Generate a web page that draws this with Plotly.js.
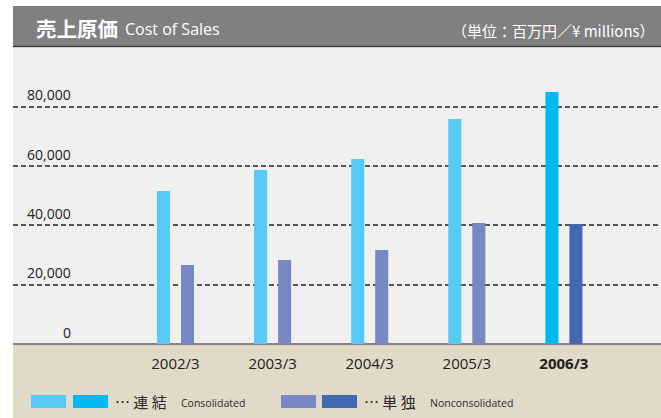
<!DOCTYPE html>
<html>
<head>
<meta charset="utf-8">
<script src="https://cdn.plot.ly/plotly-3.0.1.min.js"></script>
<style>
  html, body { margin: 0; padding: 0; background: #fff; }
  #chart { width: 661px; height: 418px; }
</style>
</head>
<body>
<div id="chart"></div>
<script>
// values, ¥ millions
const years = ['2002/3', '2003/3', '2004/3', '2005/3', '2006/3'];
const consolidated = [51600, 58700, 62400, 75900, 85000];
const nonconsolidated = [26600, 28300, 31700, 40800, 40500];
const yTicks = [0, 20000, 40000, 60000, 80000];

// latest year is highlighted with a stronger colour
const consColors = ['#56c9f5', '#56c9f5', '#56c9f5', '#56c9f5', '#00b9f0'];
const nonColors = ['#7888c4', '#7888c4', '#7888c4', '#7888c4', '#4169b1'];

const jp = '"Noto Sans CJK JP", sans-serif';
const latin = '"Open Sans", "Noto Sans CJK JP", sans-serif';

// pixel helpers for the decorations (plot area is 13..661 x 48..344)
const px = x => (x - 13) / 648;
const py = y => (344 - y) / 296;

const trace1 = {
    type: 'bar',
    x: years,
    y: consolidated,
    width: 0.134,
    offset: -0.19,
    marker: {color: consColors},
    hoverinfo: 'skip',
    name: '連結'
};

const trace2 = {
    type: 'bar',
    x: years,
    y: nonconsolidated,
    width: 0.134,
    offset: 0.057,
    marker: {color: nonColors},
    hoverinfo: 'skip',
    name: '単独'
};

const shapes = [
    // beige footer band
    {type: 'rect', xref: 'paper', yref: 'paper', x0: 0, x1: 1, y0: py(418), y1: 0,
     fillcolor: '#e1dac8', line: {width: 0}, layer: 'below'},
    // grey title bar
    {type: 'rect', xref: 'paper', yref: 'paper', x0: 0, x1: 1, y0: py(46), y1: py(6),
     fillcolor: '#808080', line: {width: 0}},
    {type: 'line', xref: 'paper', yref: 'paper', x0: 0, x1: 1, y0: py(46.5), y1: py(46.5),
     line: {color: '#3c3c3c', width: 1.5}}
];

// legend swatches
const swatches = [
    [31, consColors[0]], [73, consColors[4]],
    [281, nonColors[0]], [322, nonColors[4]]
];
swatches.forEach(function(s) {
    shapes.push({type: 'rect', xref: 'paper', yref: 'paper',
        x0: px(s[0]), x1: px(s[0] + 35), y0: py(408), y1: py(395),
        fillcolor: s[1], line: {width: 0}});
});

const annotations = [
    {xref: 'paper', yref: 'paper', x: px(34), y: py(28), xanchor: 'left', yanchor: 'middle',
     text: '<b>売上原価</b>', showarrow: false, font: {family: jp, size: 20.5, color: '#fff'}},
    {xref: 'paper', yref: 'paper', x: px(123), y: py(29), xanchor: 'left', yanchor: 'middle',
     text: 'Cost of Sales', showarrow: false, font: {family: latin, size: 16, color: '#fff'}},
    {xref: 'paper', yref: 'paper', x: px(657), y: py(30), xanchor: 'right', yanchor: 'middle',
     text: '（単位：百万円／¥ millions）', showarrow: false, font: {family: jp, size: 15, color: '#fff'}},

    {xref: 'paper', yref: 'paper', x: px(113), y: py(401), xanchor: 'left', yanchor: 'middle',
     text: '… 連 結', showarrow: false, font: {family: jp, size: 15, color: '#2a2a2a'}},
    {xref: 'paper', yref: 'paper', x: px(179), y: py(403), xanchor: 'left', yanchor: 'middle',
     text: 'Consolidated', showarrow: false, font: {family: latin, size: 10.5, color: '#2a2a2a'}},
    {xref: 'paper', yref: 'paper', x: px(362), y: py(401), xanchor: 'left', yanchor: 'middle',
     text: '… 単 独', showarrow: false, font: {family: jp, size: 15, color: '#2a2a2a'}},
    {xref: 'paper', yref: 'paper', x: px(428), y: py(403), xanchor: 'left', yanchor: 'middle',
     text: 'Nonconsolidated', showarrow: false, font: {family: latin, size: 10.5, color: '#2a2a2a'}}
];

// y tick labels sit just above their gridline
yTicks.forEach(function(v) {
    annotations.push({xref: 'paper', yref: 'y', x: px(73), y: v, xanchor: 'right', yanchor: 'middle',
        yshift: 12, text: v.toLocaleString('en-US'), showarrow: false,
        font: {family: latin, size: 14, color: '#222'}});
});

const layout = {
    width: 661,
    height: 418,
    margin: {l: 13, r: 0, t: 48, b: 74},
    paper_bgcolor: '#ffffff',
    plot_bgcolor: '#f0f0f0',
    showlegend: false,
    barmode: 'overlay',
    xaxis: {
        type: 'category',
        range: [-1.673, 5.0],
        tickvals: years,
        ticktext: years.map((y, i) => i === years.length - 1 ? '<b>' + y + '</b>' : y),
        ticks: '',
        ticklabelstandoff: 9,
        tickfont: {family: latin, size: 15, color: '#222'},
        showgrid: false,
        zeroline: false,
        fixedrange: true
    },
    yaxis: {
        range: [0, 99800],
        tickvals: yTicks,
        showticklabels: false,
        showgrid: true,
        gridcolor: '#555555',
        gridwidth: 1.8,
        griddash: '5px,3px',
        zeroline: true,
        zerolinecolor: '#858585',
        zerolinewidth: 2.2,
        fixedrange: true
    },
    shapes: shapes,
    annotations: annotations
};

Plotly.newPlot('chart', [trace1, trace2], layout, {displayModeBar: false, staticPlot: true});
</script>
</body>
</html>
